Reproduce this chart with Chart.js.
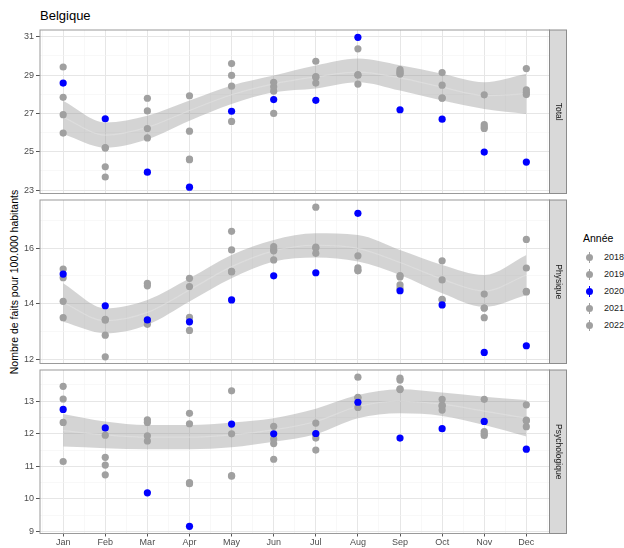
<!DOCTYPE html>
<html lang="fr">
<head>
<meta charset="utf-8">
<title>Belgique</title>
<script src="https://cdn.jsdelivr.net/npm/chart.js@4/dist/chart.umd.min.js"></script>
<style>
    html, body { margin: 0; padding: 0; background: #fff; }
    body { position: relative; width: 624px; height: 548px; overflow: hidden;
           font-family: "Liberation Sans", Arial, sans-serif; }
    .panel { position: absolute; left: 0; width: 570px; }
    #titre { position: absolute; left: 40px; top: 8px; font-size: 13px; line-height: 15px; color: #000; }
    #titre-y { position: absolute; left: -186px; top: 275px; width: 400px; text-align: center;
               font-size: 10.5px; line-height: 14px; color: #000; transform: rotate(-90deg); }
    #legende { position: absolute; left: 583px; top: 231px; color: #1a1a1a; }
    #legende .titre { font-size: 10.5px; line-height: 14px; color: #000; margin-bottom: 4px; }
    #legende .item { position: relative; height: 17px; font-size: 9px; line-height: 17px; padding-left: 21px; white-space: nowrap; }
    #legende .cle { position: absolute; left: 3px; top: 5px; width: 7px; height: 7px; border-radius: 50%; }
    #legende .trait { position: absolute; left: 6px; top: 3px; width: 1px; height: 11px; }
</style>
</head>
<body>
<div id="titre">Belgique</div>
<div id="titre-y">Nombre de faits pour 100.000 habitants</div>
<div id="legende"></div>
<div class="panel" style="top:22px;height:180px"><canvas id="chartTotal"></canvas></div>
<div class="panel" style="top:192px;height:180px"><canvas id="chartPhysique"></canvas></div>
<div class="panel" style="top:362px;height:186px"><canvas id="chartPsycho"></canvas></div>

<script>
// ---------- données ----------
const MOIS = [1, 2, 3, 4, 5, 6, 7, 8, 9, 10, 11, 12];
const LABELS_MOIS = ['Jan', 'Feb', 'Mar', 'Apr', 'May', 'Jun', 'Jul', 'Aug', 'Sep', 'Oct', 'Nov', 'Dec'];
const ANNEES = ['2018', '2019', '2020', '2021', '2022'];
const COULEURS_ANNEES = ['#a0a0a0', '#a0a0a0', '#0000ff', '#a0a0a0', '#a0a0a0'];

// Total
const TOTAL_2018 = [29.42, 25.19, 27.79, 27.92, 29.60, 28.62, 29.72, 30.37, 29.28, 29.13, 27.97, 29.34];
const TOTAL_2019 = [27.84, 25.22, 27.13, 26.07, 28.98, 28.39, 28.92, 29.02, 29.18, 28.47, 26.41, 28.23];
const TOTAL_2020 = [28.58, 26.72, 23.93, 23.15, 27.11, 27.72, 27.68, 30.97, 27.19, 26.70, 24.98, 24.46];
const TOTAL_2021 = [26.93, 24.21, 26.21, 24.58, 28.42, 28.16, 28.88, 28.99, 29.10, 27.79, 26.30, 28.10];
const TOTAL_2022 = [25.97, 23.68, 25.72, 24.62, 26.58, 27.00, 28.58, 28.53, 29.05, 27.81, 26.21, 27.98];
const TOTAL_LISSE = [26.80, 25.87, 26.27, 27.15, 27.97, 28.54, 28.90, 29.15, 28.85, 28.37, 27.93, 28.02];
const TOTAL_BAS = [25.92, 25.21, 25.65, 26.62, 27.49, 28.10, 28.30, 28.63, 28.19, 27.67, 27.23, 26.97];
const TOTAL_HAUT = [27.66, 26.53, 26.88, 27.67, 28.46, 28.98, 29.50, 29.86, 29.51, 29.07, 28.63, 29.07];
const TOTAL_TICKS = [23, 25, 27, 29, 31];

// Physique
const PHYS_2018 = [15.24, 13.43, 14.73, 14.91, 16.60, 16.05, 17.47, 15.72, 15.01, 15.54, 14.34, 16.31];
const PHYS_2019 = [14.93, 13.40, 14.64, 14.61, 15.93, 15.93, 16.03, 15.29, 14.96, 14.85, 13.84, 15.28];
const PHYS_2020 = [15.06, 13.92, 13.41, 13.34, 14.13, 15.00, 15.11, 17.25, 14.46, 13.95, 12.24, 12.48];
const PHYS_2021 = [14.08, 12.86, 13.40, 13.50, 15.16, 15.90, 15.81, 15.18, 14.67, 14.15, 13.84, 14.44];
const PHYS_2022 = [13.49, 12.08, 13.25, 13.03, 15.14, 15.57, 16.00, 15.20, 14.55, 14.13, 13.49, 14.42];
const PHYS_LISSE = [14.04, 13.38, 13.68, 14.49, 15.33, 15.90, 16.10, 15.99, 15.48, 14.88, 14.45, 15.03];
const PHYS_BAS = [13.34, 12.93, 13.23, 14.07, 14.91, 15.51, 15.66, 15.51, 15.03, 14.37, 13.88, 14.31];
const PHYS_HAUT = [14.73, 13.83, 14.13, 14.91, 15.75, 16.29, 16.53, 16.47, 15.93, 15.39, 15.03, 15.75];
const PHYS_TICKS = [12, 14, 16];

// Psychologique
const PSY_2018 = [13.46, 11.96, 12.43, 12.63, 13.32, 12.23, 12.33, 13.74, 13.71, 13.06, 13.06, 12.89];
const PSY_2019 = [13.07, 11.28, 12.35, 12.31, 12.00, 11.84, 11.87, 13.12, 13.65, 12.88, 12.07, 12.42];
const PSY_2020 = [12.75, 12.18, 10.19, 9.16, 12.30, 12.00, 12.01, 12.97, 11.87, 12.16, 12.38, 11.53];
const PSY_2021 = [12.35, 11.04, 11.94, 10.47, 10.70, 11.70, 11.50, 12.81, 13.36, 12.73, 11.95, 12.22];
const PSY_2022 = [11.15, 10.74, 11.78, 10.50, 10.72, 11.22, 11.98, 13.10, 13.38, 12.85, 12.00, 12.40];
const PSY_LISSE = [12.10, 11.97, 11.90, 11.90, 11.97, 12.12, 12.38, 12.84, 13.00, 12.91, 12.70, 12.48];
const PSY_BAS = [11.61, 11.56, 11.53, 11.53, 11.59, 11.76, 11.99, 12.48, 12.63, 12.55, 12.27, 11.92];
const PSY_HAUT = [12.61, 12.38, 12.27, 12.27, 12.35, 12.48, 12.77, 13.19, 13.37, 13.27, 13.14, 13.04];
const PSY_TICKS = [9, 10, 11, 12, 13];

// ---------- helpers ----------
const POLICE = "'Liberation Sans', Arial, sans-serif";

function versPoints(valeurs) {
    return valeurs.map((v, i) => ({ x: MOIS[i], y: v }));
}

// grille mineure à mi-chemin entre les graduations (comme ggplot)
function avecMineures(majeures, min, max) {
    const pas = majeures[1] - majeures[0];
    const res = [];
    for (let i = -1; i < majeures.length; i++) {
        const m = (i < 0 ? majeures[0] - pas : majeures[i]) + pas / 2;
        if (m > min && m < max) res.push(m);
    }
    return majeures.concat(res).sort((a, b) => a - b);
}

// cadre du panneau + bandeau gris à droite
const cadrePanneau = {
    id: 'cadrePanneau',
    afterDatasetsDraw(chart, args, opts) {
        const { ctx, chartArea: a } = chart;
        ctx.save();
        ctx.strokeStyle = '#9a9a9a';
        ctx.lineWidth = 1;
        ctx.strokeRect(a.left, a.top, a.right - a.left, a.bottom - a.top);
        ctx.fillStyle = '#d9d9d9';
        ctx.fillRect(a.right, a.top, 17, a.bottom - a.top);
        ctx.strokeStyle = '#8c8c8c';
        ctx.strokeRect(a.right, a.top, 17, a.bottom - a.top);
        ctx.translate(a.right + 8.5, (a.top + a.bottom) / 2);
        ctx.rotate(Math.PI / 2);
        ctx.fillStyle = '#1a1a1a';
        ctx.font = '8.5px ' + POLICE;
        ctx.textAlign = 'center';
        ctx.textBaseline = 'middle';
        ctx.fillText(opts.texte, 0, 0);
        ctx.restore();
    }
};

function creerPanneau(id, cfg) {
    const series = [cfg.s2018, cfg.s2019, cfg.s2020, cfg.s2021, cfg.s2022];
    const datasets = series.map((s, i) => ({
        label: ANNEES[i],
        data: versPoints(s),
        backgroundColor: COULEURS_ANNEES[i],
        borderWidth: 0,
        pointRadius: 3.6,
        order: ANNEES[i] === '2020' ? 0 : 1
    }));
    // ruban de confiance + courbe lissée
    datasets.push({
        label: 'haut', data: versPoints(cfg.haut), showLine: true, fill: '+1',
        backgroundColor: 'rgba(153,153,153,0.42)', borderWidth: 0, pointRadius: 0,
        cubicInterpolationMode: 'monotone', order: 5
    });
    datasets.push({
        label: 'bas', data: versPoints(cfg.bas), showLine: true, fill: false,
        borderWidth: 0, pointRadius: 0, cubicInterpolationMode: 'monotone', order: 5
    });
    datasets.push({
        label: 'lisse', data: versPoints(cfg.lisse), showLine: true, fill: false,
        borderColor: 'rgba(228,228,228,0.55)', borderWidth: 1.2, pointRadius: 0,
        cubicInterpolationMode: 'monotone', order: 4
    });

    const ticksY = avecMineures(cfg.ticks, cfg.min, cfg.max);
    const ticksX = avecMineures(MOIS, 0.45, 12.55);
    const estMajeurY = v => cfg.ticks.includes(v);
    const estMajeurX = v => Number.isInteger(v);

    return new Chart(document.getElementById(id), {
        type: 'scatter',
        data: { datasets },
        plugins: [cadrePanneau],
        options: {
            responsive: true,
            maintainAspectRatio: false,
            animation: false,
            layout: { padding: { top: 8, bottom: cfg.basPadding, left: 0, right: 20.5 } },
            plugins: {
                legend: { display: false },
                tooltip: { enabled: false },
                cadrePanneau: { texte: cfg.nom }
            },
            scales: {
                x: {
                    type: 'linear',
                    min: 0.45,
                    max: 12.55,
                    afterBuildTicks: s => { s.ticks = ticksX.map(v => ({ value: v })); },
                    afterFit: s => { s.height = cfg.axeX ? 14 : 0; s.paddingLeft = 0; s.paddingRight = 0; },
                    border: { display: false },
                    grid: {
                        color: c => estMajeurX(c.tick.value) ? '#e6e6e6' : '#f3f3f3',
                        lineWidth: c => estMajeurX(c.tick.value) ? 1 : 0.6,
                        drawTicks: cfg.axeX,
                        tickLength: 3,
                        tickColor: c => estMajeurX(c.tick.value) ? '#555' : 'rgba(0,0,0,0)'
                    },
                    ticks: {
                        display: cfg.axeX,
                        autoSkip: false,
                        maxRotation: 0,
                        padding: 1,
                        color: '#4d4d4d',
                        font: { size: 9, family: POLICE },
                        callback: v => estMajeurX(v) ? LABELS_MOIS[v - 1] : ''
                    }
                },
                y: {
                    type: 'linear',
                    min: cfg.min,
                    max: cfg.max,
                    afterBuildTicks: s => { s.ticks = ticksY.map(v => ({ value: v })); },
                    afterFit: s => { s.width = 40; s.paddingTop = 0; s.paddingBottom = 0; },
                    border: { display: false },
                    grid: {
                        color: c => estMajeurY(c.tick.value) ? '#e6e6e6' : '#f3f3f3',
                        lineWidth: c => estMajeurY(c.tick.value) ? 1 : 0.6,
                        tickLength: 4,
                        tickColor: c => estMajeurY(c.tick.value) ? '#555' : 'rgba(0,0,0,0)'
                    },
                    ticks: {
                        padding: 2,
                        color: '#4d4d4d',
                        font: { size: 9, family: POLICE },
                        callback: v => estMajeurY(v) ? String(v) : ''
                    }
                }
            }
        }
    });
}

creerPanneau('chartTotal', {
    nom: 'Total', s2018: TOTAL_2018, s2019: TOTAL_2019, s2020: TOTAL_2020, s2021: TOTAL_2021, s2022: TOTAL_2022,
    lisse: TOTAL_LISSE, bas: TOTAL_BAS, haut: TOTAL_HAUT, ticks: TOTAL_TICKS,
    min: 22.82, max: 31.35, axeX: false, basPadding: 8.5
});
creerPanneau('chartPhysique', {
    nom: 'Physique', s2018: PHYS_2018, s2019: PHYS_2019, s2020: PHYS_2020, s2021: PHYS_2021, s2022: PHYS_2022,
    lisse: PHYS_LISSE, bas: PHYS_BAS, haut: PHYS_HAUT, ticks: PHYS_TICKS,
    min: 11.84, max: 17.73, axeX: false, basPadding: 8.5
});
creerPanneau('chartPsycho', {
    nom: 'Psychologique', s2018: PSY_2018, s2019: PSY_2019, s2020: PSY_2020, s2021: PSY_2021, s2022: PSY_2022,
    lisse: PSY_LISSE, bas: PSY_BAS, haut: PSY_HAUT, ticks: PSY_TICKS,
    min: 8.94, max: 13.96, axeX: true, basPadding: 0.5
});

// légende "Année"
const legende = document.getElementById('legende');
legende.innerHTML = '<div class="titre">Année</div>' + ANNEES.map((a, i) =>
    `<div class="item"><span class="trait" style="background:${COULEURS_ANNEES[i]}"></span>` +
    `<span class="cle" style="background:${COULEURS_ANNEES[i]}"></span>${a}</div>`).join('');
</script>
</body>
</html>
